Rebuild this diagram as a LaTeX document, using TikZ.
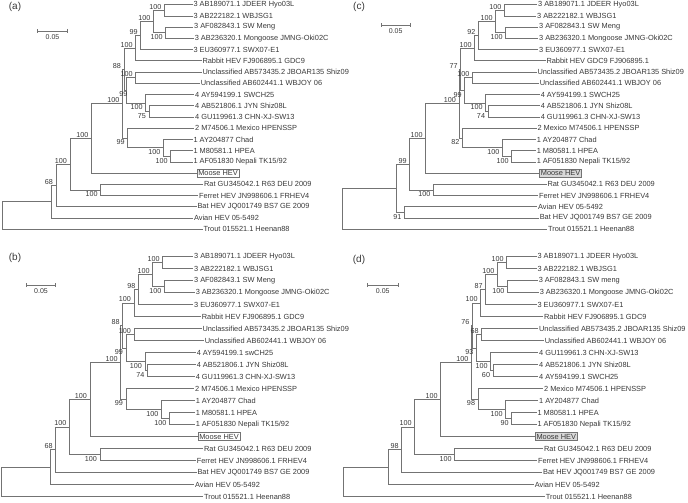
\documentclass[tikz,border=0pt]{standalone}
\usepackage{fontspec}
\setmainfont{Liberation Sans}
\usetikzlibrary{calc,arrows.meta}
\definecolor{brc}{gray}{0.45}
\definecolor{txc}{gray}{0.22}
\tikzset{
  brl/.style={draw=brc, line width=0.8pt},
  leaf/.style={anchor=west, inner sep=0.6pt, text=txc, font=\fontsize{7.4}{8}\selectfont},
  moose/.style={leaf, draw=brc, line width=0.7pt, inner sep=1.2pt, fill=white},
  moosegray/.style={moose, fill=gray!30},
  bsu/.style={anchor=south east, inner sep=0.8pt, xshift=-2pt, text=txc, font=\fontsize{7.2}{8}\selectfont},
  bsd/.style={anchor=north east, inner sep=0.8pt, xshift=-2pt, yshift=-0.8pt, text=txc, font=\fontsize{7.2}{8}\selectfont},
  panel/.style={text=txc, font=\fontsize{10}{11}\selectfont, inner sep=0pt},
  sbar/.style={draw=brc, line width=0.8pt, {Bar[width=4pt]}-{Bar[width=4pt]}},
  sbtext/.style={anchor=north, inner sep=0pt, text=txc, font=\fontsize{7}{8}\selectfont},
}
\newcommand\inode[4]{\path let \p1=($(#3)!.5!(#4)$) in coordinate (#1) at (#2pt,\y1);}
\newcommand\kids[3]{\draw[brl] (#1) |- (#2) (#1) |- (#3);}
\newcommand\bu[2]{\node[bsu] (#1-l) at (#1) {#2};}
\newcommand\bd[2]{\node[bsd] (#1-l) at (#1) {#2};}
\begin{document}
\begin{tikzpicture}[x=1pt,y=-1pt]
\useasboundingbox (0,0) rectangle (688,503);

%%%%%%%%%%%%%%%%%%%% PANEL (a)
\node[panel] (a-lab) at (15,7) {(a)};
\coordinate (a-s1) at (37.3,31); \coordinate (a-s2) at (67.7,31);
\draw[sbar] (a-s1) -- (a-s2);
\node[sbtext] (a-st) at ($(a-s1)!.5!(a-s2)+(0,3)$) {0.05};
\node[leaf] (a-r1) at (192.7,4.7) {3 AB189071.1 JDEER Hyo03L};
\node[leaf] (a-r2) at (192.7,15.93) {3 AB222182.1 WBJSG1};
\node[leaf] (a-r3) at (193.3,27.16) {3 AF082843.1 SW Meng};
\node[leaf] (a-r4) at (194,38.39) {3 AB236320.1 Mongoose JMNG-Oki02C};
\node[leaf] (a-r5) at (192.7,49.62) {3 EU360977.1 SWX07-E1};
\node[leaf] (a-r6) at (201.7,60.85) {Rabbit HEV FJ906895.1 GDC9};
\node[leaf] (a-r7) at (201.7,72.08) {Unclassified AB573435.2 JBOAR135 Shiz09};
\node[leaf] (a-r8) at (200,83.31) {Unclassified AB602441.1 WBJOY 06};
\node[leaf] (a-r9) at (194.3,94.54) {4 AY594199.1 SWCH25};
\node[leaf] (a-r10) at (194.3,105.77) {4 AB521806.1 JYN Shiz08L};
\node[leaf] (a-r11) at (194.3,117) {4 GU119961.3 CHN-XJ-SW13};
\node[leaf] (a-r12) at (194.3,128.23) {2 M74506.1 Mexico HPENSSP};
\node[leaf] (a-r13) at (192.7,139.46) {1 AY204877 Chad};
\node[leaf] (a-r14) at (192.7,150.69) {1 M80581.1 HPEA};
\node[leaf] (a-r15) at (192.7,161.92) {1 AF051830 Nepali TK15/92};
\node[moose] (a-r16) at (196.7,173.15) {Moose HEV};
\node[leaf] (a-r17) at (203.3,184.38) {Rat GU345042.1 R63 DEU 2009};
\node[leaf] (a-r18) at (198.3,195.61) {Ferret HEV JN998606.1 FRHEV4};
\node[leaf] (a-r19) at (196.7,206.84) {Bat HEV JQ001749 BS7 GE 2009};
\node[leaf] (a-r20) at (193.3,218.07) {Avian HEV 05-5492};
\node[leaf] (a-r21) at (202.7,229.3) {Trout 015521.1 Heenan88};
\inode{a-n1}{164.3}{a-r1}{a-r2}
\inode{a-n3}{165.7}{a-r3}{a-r4}
\inode{a-n2}{153.3}{a-n1}{a-n3}
\inode{a-n4}{140.7}{a-n2}{a-r5}
\inode{a-n5}{135.7}{a-n4}{a-r6}
\inode{a-u}{135.7}{a-r7}{a-r8}
\inode{a-gs}{149}{a-r10}{a-r11}
\inode{a-g4}{145.7}{a-r9}{a-gs}
\inode{a-q}{126.5}{a-u}{a-g4}
\inode{a-p}{124}{a-n5}{a-q}
\inode{a-i}{170.7}{a-r14}{a-r15}
\inode{a-h}{163.3}{a-r13}{a-i}
\inode{a-k}{127.7}{a-r12}{a-h}
\inode{a-g}{122.5}{a-p}{a-k}
\inode{a-e}{91.3}{a-g}{a-r16}
\inode{a-f}{100.7}{a-r17}{a-r18}
\inode{a-d}{70}{a-e}{a-f}
\inode{a-c}{56}{a-d}{a-r19}
\inode{a-b}{51.7}{a-c}{a-r20}
\inode{a-o}{2.7}{a-b}{a-r21}
\kids{a-n1}{a-r1.west}{a-r2.west}
\kids{a-n3}{a-r3.west}{a-r4.west}
\kids{a-n2}{a-n1}{a-n3}
\kids{a-n4}{a-n2}{a-r5.west}
\kids{a-n5}{a-n4}{a-r6.west}
\kids{a-u}{a-r7.west}{a-r8.west}
\kids{a-gs}{a-r10.west}{a-r11.west}
\kids{a-g4}{a-r9.west}{a-gs}
\kids{a-q}{a-u}{a-g4}
\kids{a-p}{a-n5}{a-q}
\kids{a-i}{a-r14.west}{a-r15.west}
\kids{a-h}{a-r13.west}{a-i}
\kids{a-k}{a-r12.west}{a-h}
\kids{a-g}{a-p}{a-k}
\kids{a-e}{a-g}{a-r16.west}
\kids{a-f}{a-r17.west}{a-r18.west}
\kids{a-d}{a-e}{a-f}
\kids{a-c}{a-d}{a-r19.west}
\kids{a-b}{a-c}{a-r20.west}
\kids{a-o}{a-b}{a-r21.west}
\bu{a-n1}{100}\bd{a-n3}{100}\bu{a-n2}{100}\bu{a-n4}{99}\bu{a-n5}{100}
\bu{a-u}{100}\bd{a-gs}{75}\bd{a-g4}{100}\bu{a-p}{88}
\node[bsd, xshift=4pt, yshift=0.6pt] (a-q-l) at (a-q) {99};
\bd{a-i}{100}\bd{a-h}{100}\bd{a-k}{99}\bu{a-g}{100}\bu{a-e}{100}
\bd{a-f}{100}\bu{a-d}{100}\bu{a-c}{68}

%%%%%%%%%%%%%%%%%%%% PANEL (c)
\node[panel] (c-lab) at (359,7) {(c)};
\coordinate (c-s1) at (380.7,25); \coordinate (c-s2) at (410.7,25);
\draw[sbar] (c-s1) -- (c-s2);
\node[sbtext] (c-st) at ($(c-s1)!.5!(c-s2)+(0,3)$) {0.05};
\node[leaf] (c-r1) at (537.3,4.7) {3 AB189071.1 JDEER Hyo03L};
\node[leaf] (c-r2) at (536.3,15.93) {3 AB222182.1 WBJSG1};
\node[leaf] (c-r3) at (538.3,27.16) {3 AF082843.1 SW Meng};
\node[leaf] (c-r4) at (538.3,38.39) {3 AB236320.1 Mongoose JMNG-Oki02C};
\node[leaf] (c-r5) at (538.3,49.62) {3 EU360977.1 SWX07-E1};
\node[leaf] (c-r6) at (545.7,60.85) {Rabbit HEV GDC9 FJ906895.1};
\node[leaf] (c-r7) at (536.7,72.08) {Unclassified AB573435.2 JBOAR135 Shiz09};
\node[leaf] (c-r8) at (539,83.31) {Unclassified AB602441.1 WBJOY 06};
\node[leaf] (c-r9) at (540,94.54) {4 AY594199.1 SWCH25};
\node[leaf] (c-r10) at (540,105.77) {4 AB521806.1 JYN Shiz08L};
\node[leaf] (c-r11) at (540,117) {4 GU119961.3 CHN-XJ-SW13};
\node[leaf] (c-r12) at (536.7,128.23) {2 Mexico M74506.1 HPENSSP};
\node[leaf] (c-r13) at (536,139.46) {1 AY204877 Chad};
\node[leaf] (c-r14) at (536,150.69) {1 M80581.1 HPEA};
\node[leaf] (c-r15) at (536,161.92) {1 AF051830 Nepali TK15/92};
\node[moosegray] (c-r16) at (539.3,173.15) {Moose HEV};
\node[leaf] (c-r17) at (546.7,184.38) {Rat GU345042.1 R63 DEU 2009};
\node[leaf] (c-r18) at (538.3,195.61) {Ferret HEV JN998606.1 FRHEV4};
\node[leaf] (c-r19) at (537.3,206.84) {Avian HEV 05-5492};
\node[leaf] (c-r20) at (539,218.07) {Bat HEV JQ001749 BS7 GE 2009};
\node[leaf] (c-r21) at (547.3,229.3) {Trout 015521.1 Heenan88};
\inode{c-n1}{504.3}{c-r1}{c-r2}
\inode{c-n3}{505.7}{c-r3}{c-r4}
\inode{c-n2}{495.7}{c-n1}{c-n3}
\inode{c-n4}{478.3}{c-n2}{c-r5}
\inode{c-n5}{474.7}{c-n4}{c-r6}
\inode{c-u}{472.3}{c-r7}{c-r8}
\inode{c-gs}{488}{c-r10}{c-r11}
\inode{c-g4}{485.7}{c-r9}{c-gs}
\inode{c-q}{464.7}{c-u}{c-g4}
\inode{c-p}{460.7}{c-n5}{c-q}
\inode{c-i}{511.7}{c-r14}{c-r15}
\inode{c-h}{502.3}{c-r13}{c-i}
\inode{c-k}{462.3}{c-r12}{c-h}
\inode{c-g}{459}{c-p}{c-k}
\inode{c-e}{425.7}{c-g}{c-r16}
\inode{c-f}{433.3}{c-r17}{c-r18}
\inode{c-d}{409.7}{c-e}{c-f}
\inode{c-j}{404.3}{c-r19}{c-r20}
\inode{c-b}{396.7}{c-d}{c-j}
\inode{c-o}{342.7}{c-b}{c-r21}
\kids{c-n1}{c-r1.west}{c-r2.west}
\kids{c-n3}{c-r3.west}{c-r4.west}
\kids{c-n2}{c-n1}{c-n3}
\kids{c-n4}{c-n2}{c-r5.west}
\kids{c-n5}{c-n4}{c-r6.west}
\kids{c-u}{c-r7.west}{c-r8.west}
\kids{c-gs}{c-r10.west}{c-r11.west}
\kids{c-g4}{c-r9.west}{c-gs}
\kids{c-q}{c-u}{c-g4}
\kids{c-p}{c-n5}{c-q}
\kids{c-i}{c-r14.west}{c-r15.west}
\kids{c-h}{c-r13.west}{c-i}
\kids{c-k}{c-r12.west}{c-h}
\kids{c-g}{c-p}{c-k}
\kids{c-e}{c-g}{c-r16.west}
\kids{c-f}{c-r17.west}{c-r18.west}
\kids{c-d}{c-e}{c-f}
\kids{c-j}{c-r19.west}{c-r20.west}
\kids{c-b}{c-d}{c-j}
\kids{c-o}{c-b}{c-r21.west}
\bu{c-n1}{100}\bd{c-n3}{100}\bu{c-n2}{100}\bu{c-n4}{92}\bu{c-n5}{100}
\bu{c-u}{100}\bd{c-gs}{74}\bd{c-g4}{100}\bd{c-q}{99}\bu{c-p}{77}
\bd{c-i}{100}\bd{c-h}{100}\bd{c-k}{82}\bu{c-g}{100}\bu{c-e}{100}
\bd{c-f}{100}\bu{c-d}{99}\bd{c-j}{91}

%%%%%%%%%%%%%%%%%%%% PANEL (b)
\node[panel] (b-lab) at (15,258) {(b)};
\coordinate (b-s1) at (26,285); \coordinate (b-s2) at (56,285);
\draw[sbar] (b-s1) -- (b-s2);
\node[sbtext] (b-st) at ($(b-s1)!.5!(b-s2)+(0,3)$) {0.05};
\node[leaf] (b-r1) at (193.3,256.5) {3 AB189071.1 JDEER Hyo03L};
\node[leaf] (b-r2) at (193.3,268.5) {3 AB222182.1 WBJSG1};
\node[leaf] (b-r3) at (193.3,280.5) {3 AF082843.1 SW Meng};
\node[leaf] (b-r4) at (195,292.5) {3 AB236320.1 Mongoose JMNG-Oki02C};
\node[leaf] (b-r5) at (193.3,304.5) {3 EU360977.1 SWX07-E1};
\node[leaf] (b-r6) at (201,316.5) {Rabbit HEV FJ906895.1 GDC9};
\node[leaf] (b-r7) at (201.7,328.5) {Unclassified AB573435.2 JBOAR135 Shiz09};
\node[leaf] (b-r8) at (204,340.5) {Unclassified AB602441.1 WBJOY 06};
\node[leaf] (b-r9) at (196,352.5) {4 AY594199.1 swCH25};
\node[leaf] (b-r10) at (196,364.5) {4 AB521806.1 JYN Shiz08L};
\node[leaf] (b-r11) at (195,376.5) {4 GU119961.3 CHN-XJ-SW13};
\node[leaf] (b-r12) at (194.3,388.5) {2 M74506.1 Mexico HPENSSP};
\node[leaf] (b-r13) at (195,400.5) {1 AY204877 Chad};
\node[leaf] (b-r14) at (195,412.5) {1 M80581.1 HPEA};
\node[leaf] (b-r15) at (195,424.5) {1 AF051830 Nepali TK15/92};
\node[moose] (b-r16) at (197.7,436.5) {Moose HEV};
\node[leaf] (b-r17) at (203.3,448.5) {Rat GU345042.1 R63 DEU 2009};
\node[leaf] (b-r18) at (196,460.5) {Ferret HEV JN998606.1 FRHEV4};
\node[leaf] (b-r19) at (196.7,472.5) {Bat HEV JQ001749 BS7 GE 2009};
\node[leaf] (b-r20) at (194.3,484.5) {Avian HEV 05-5492};
\node[leaf] (b-r21) at (203.3,496.5) {Trout 015521.1 Heenan88};
\inode{b-n1}{162.7}{b-r1}{b-r2}
\inode{b-n3}{164.3}{b-r3}{b-r4}
\inode{b-n2}{152.7}{b-n1}{b-n3}
\inode{b-n4}{138.3}{b-n2}{b-r5}
\inode{b-n5}{134}{b-n4}{b-r6}
\inode{b-u}{134}{b-r7}{b-r8}
\inode{b-gs}{147.3}{b-r10}{b-r11}
\inode{b-g4}{145}{b-r9}{b-gs}
\inode{b-q}{126}{b-u}{b-g4}
\inode{b-p}{122.7}{b-n5}{b-q}
\inode{b-i}{169.3}{b-r14}{b-r15}
\inode{b-h}{161.3}{b-r13}{b-i}
\inode{b-k}{126}{b-r12}{b-h}
\inode{b-g}{120.7}{b-p}{b-k}
\inode{b-e}{90}{b-g}{b-r16}
\inode{b-f}{100}{b-r17}{b-r18}
\inode{b-d}{69.3}{b-e}{b-f}
\inode{b-c}{55.7}{b-d}{b-r19}
\inode{b-b}{50.7}{b-c}{b-r20}
\inode{b-o}{1.7}{b-b}{b-r21}
\kids{b-n1}{b-r1.west}{b-r2.west}
\kids{b-n3}{b-r3.west}{b-r4.west}
\kids{b-n2}{b-n1}{b-n3}
\kids{b-n4}{b-n2}{b-r5.west}
\kids{b-n5}{b-n4}{b-r6.west}
\kids{b-u}{b-r7.west}{b-r8.west}
\kids{b-gs}{b-r10.west}{b-r11.west}
\kids{b-g4}{b-r9.west}{b-gs}
\kids{b-q}{b-u}{b-g4}
\kids{b-p}{b-n5}{b-q}
\kids{b-i}{b-r14.west}{b-r15.west}
\kids{b-h}{b-r13.west}{b-i}
\kids{b-k}{b-r12.west}{b-h}
\kids{b-g}{b-p}{b-k}
\kids{b-e}{b-g}{b-r16.west}
\kids{b-f}{b-r17.west}{b-r18.west}
\kids{b-d}{b-e}{b-f}
\kids{b-c}{b-d}{b-r19.west}
\kids{b-b}{b-c}{b-r20.west}
\kids{b-o}{b-b}{b-r21.west}
\bu{b-n1}{100}\bd{b-n3}{100}\bu{b-n2}{100}\bu{b-n4}{98}\bu{b-n5}{100}
\bu{b-u}{100}\bd{b-gs}{74}\bd{b-g4}{100}\bd{b-q}{99}\bu{b-p}{88}
\bd{b-i}{100}\bd{b-h}{100}\bd{b-k}{99}\bu{b-g}{100}\bu{b-e}{100}
\bd{b-f}{100}\bu{b-d}{100}\bu{b-c}{68}

%%%%%%%%%%%%%%%%%%%% PANEL (d)
\node[panel] (d-lab) at (359,260) {(d)};
\coordinate (d-s1) at (367.3,285); \coordinate (d-s2) at (398.3,285);
\draw[sbar] (d-s1) -- (d-s2);
\node[sbtext] (d-st) at ($(d-s1)!.5!(d-s2)+(0,3)$) {0.05};
\node[leaf] (d-r1) at (536.7,256.5) {3 AB189071.1 JDEER Hyo03L};
\node[leaf] (d-r2) at (536.7,268.5) {3 AB222182.1 WBJSG1};
\node[leaf] (d-r3) at (538,280.5) {3 AF082843.1 SW meng};
\node[leaf] (d-r4) at (539,292.5) {3 AB236320.1 Mongoose JMNG-Oki02C};
\node[leaf] (d-r5) at (536.7,304.5) {3 EU360977.1 SWX07-E1};
\node[leaf] (d-r6) at (543.3,316.5) {Rabbit HEV FJ906895.1 GDC9};
\node[leaf] (d-r7) at (538.3,328.5) {Unclassified AB573435.2 JBOAR135 Shiz09};
\node[leaf] (d-r8) at (544,340.5) {Unclassified AB602441.1 WBJOY 06};
\node[leaf] (d-r9) at (538.3,352.5) {4 GU119961.3 CHN-XJ-SW13};
\node[leaf] (d-r10) at (538.3,364.5) {4 AB521806.1 JYN Shiz08L};
\node[leaf] (d-r11) at (538.3,376.5) {4 AY594199.1 SWCH25};
\node[leaf] (d-r12) at (543.3,388.5) {2 Mexico M74506.1 HPENSSP};
\node[leaf] (d-r13) at (538.3,400.5) {1 AY204877 Chad};
\node[leaf] (d-r14) at (536.7,412.5) {1 M80581.1 HPEA};
\node[leaf] (d-r15) at (536.7,424.5) {1 AF051830 Nepali TK15/92};
\node[moosegray] (d-r16) at (535,436.5) {Moose HEV};
\node[leaf] (d-r17) at (543.3,448.5) {Rat GU345042.1 R63 DEU 2009};
\node[leaf] (d-r18) at (537.3,460.5) {Ferret HEV JN998606.1 FRHEV4};
\node[leaf] (d-r19) at (542.3,472.5) {Bat HEV JQ001749 BS7 GE 2009};
\node[leaf] (d-r20) at (534,484.5) {Avian HEV 05-5492};
\node[leaf] (d-r21) at (545,496.5) {Trout 015521.1 Heenan88};
\inode{d-n1}{506.7}{d-r1}{d-r2}
\inode{d-n3}{507.3}{d-r3}{d-r4}
\inode{d-n2}{497.3}{d-n1}{d-n3}
\inode{d-n4}{485.7}{d-n2}{d-r5}
\inode{d-n5}{480.7}{d-n4}{d-r6}
\inode{d-u}{481.7}{d-r7}{d-r8}
\inode{d-gs}{493}{d-r10}{d-r11}
\inode{d-g4}{490.7}{d-r9}{d-gs}
\inode{d-q}{476.3}{d-u}{d-g4}
\inode{d-p}{472.3}{d-n5}{d-q}
\inode{d-i}{511.7}{d-r14}{d-r15}
\inode{d-h}{505.7}{d-r13}{d-i}
\inode{d-k}{478}{d-r12}{d-h}
\inode{d-g}{471.3}{d-p}{d-k}
\inode{d-e}{440.7}{d-g}{d-r16}
\inode{d-f}{454.7}{d-r17}{d-r18}
\inode{d-d}{414.7}{d-e}{d-f}
\inode{d-c}{401.7}{d-d}{d-r19}
\inode{d-b}{388.3}{d-c}{d-r20}
\inode{d-o}{343}{d-b}{d-r21}
\kids{d-n1}{d-r1.west}{d-r2.west}
\kids{d-n3}{d-r3.west}{d-r4.west}
\kids{d-n2}{d-n1}{d-n3}
\kids{d-n4}{d-n2}{d-r5.west}
\kids{d-n5}{d-n4}{d-r6.west}
\kids{d-u}{d-r7.west}{d-r8.west}
\kids{d-gs}{d-r10.west}{d-r11.west}
\kids{d-g4}{d-r9.west}{d-gs}
\kids{d-q}{d-u}{d-g4}
\kids{d-p}{d-n5}{d-q}
\kids{d-i}{d-r14.west}{d-r15.west}
\kids{d-h}{d-r13.west}{d-i}
\kids{d-k}{d-r12.west}{d-h}
\kids{d-g}{d-p}{d-k}
\kids{d-e}{d-g}{d-r16.west}
\kids{d-f}{d-r17.west}{d-r18.west}
\kids{d-d}{d-e}{d-f}
\kids{d-c}{d-d}{d-r19.west}
\kids{d-b}{d-c}{d-r20.west}
\kids{d-o}{d-b}{d-r21.west}
\bu{d-n1}{100}\bd{d-n3}{100}\bu{d-n2}{100}\bu{d-n4}{87}\bu{d-n5}{100}
\bu{d-u}{68}\bd{d-gs}{60}\bd{d-g4}{100}\bd{d-q}{93}\bu{d-p}{76}
\bd{d-i}{90}\bd{d-h}{100}\bd{d-k}{98}\bu{d-g}{100}\bu{d-e}{100}
\bd{d-f}{100}\bu{d-d}{100}\bu{d-c}{98}
\end{tikzpicture}
\end{document}
